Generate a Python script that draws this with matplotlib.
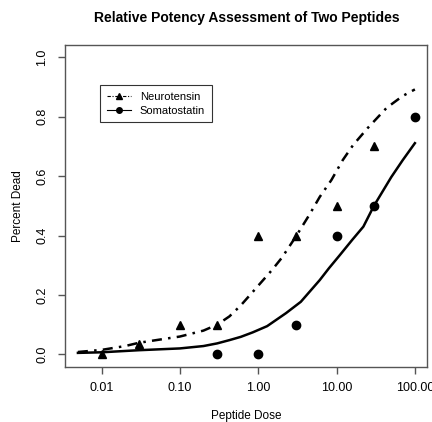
import numpy as np
import matplotlib.pyplot as plt

# observed data
neuro_dose = [0.01, 0.03, 0.1, 0.3, 1, 3, 10, 30]
neuro_dead = [0.0, 0.035, 0.1, 0.1, 0.4, 0.4, 0.5, 0.7]
somato_dose = [0.3, 1, 3, 10, 30, 100]
somato_dead = [0.0, 0.0, 0.1, 0.4, 0.5, 0.8]

# fitted curves
neuro_fit_dose = [0.005, 0.01, 0.02, 0.03, 0.05, 0.1, 0.2, 0.3, 0.43, 0.6, 0.85,
                  1.5, 2, 3, 4.5, 6.1, 8.6, 12, 16.3, 25, 43.6, 70, 100]
neuro_fit = [0.008, 0.015, 0.028, 0.039, 0.048, 0.06, 0.08, 0.10, 0.128, 0.165, 0.21,
             0.284, 0.325, 0.395, 0.47, 0.53, 0.587, 0.654, 0.705, 0.762, 0.83, 0.87, 0.892]
somato_fit_dose = [0.005, 0.01, 0.03, 0.1, 0.2, 0.3, 0.43, 0.6, 0.85, 1.3, 2.27,
                   3.5, 6.1, 8, 11, 15.8, 22, 30, 50, 70, 100]
somato_fit = [0.005, 0.007, 0.014, 0.02, 0.028, 0.037, 0.048, 0.059, 0.074, 0.095, 0.139,
              0.177, 0.25, 0.29, 0.334, 0.385, 0.43, 0.5, 0.597, 0.654, 0.711]

x_ticks = [0.01, 0.1, 1, 10, 100]
x_labels = ['0.01', '0.10', '1.00', '10.00', '100.00']
y_ticks = [0.0, 0.2, 0.4, 0.6, 0.8, 1.0]
y_labels = ['0.0', '0.2', '0.4', '0.6', '0.8', '1.0']

plt.rcParams['font.family'] = ['Liberation Sans', 'DejaVu Sans']

fig = plt.figure(figsize=(4.32, 4.22), dpi=100)
ax = fig.add_axes([0.150, 0.130, 0.838, 0.763])

ax.plot(neuro_fit_dose, neuro_fit, color='black', lw=1.8, dashes=(4, 2.5, 1, 2.5))
ax.plot(somato_fit_dose, somato_fit, color='black', lw=1.8)
ax.plot(neuro_dose, neuro_dead, '^', color='black', ms=6, ls='none')
ax.plot(somato_dose, somato_dead, 'o', color='black', ms=6, ls='none')

ax.set_xscale('log')
ax.set_xlim(0.0034, 142)
ax.set_ylim(-0.043, 1.041)
ax.set_xticks(x_ticks)
ax.set_xticklabels(x_labels)
ax.minorticks_off()
ax.set_yticks(y_ticks)
ax.set_yticklabels(y_labels, rotation=90, va='center')

for s in ax.spines.values():
    s.set_color('#555555')
    s.set_linewidth(1.0)
ax.tick_params(axis='both', length=5, width=1.0, color='#555555', labelsize=9)
ax.tick_params(axis='x', pad=6)
ax.tick_params(axis='y', pad=7)

ax.set_xlabel('Peptide Dose', fontsize=8.5, labelpad=11.5)
ax.set_ylabel('Percent Dead', fontsize=8.5, labelpad=9)
fig.text(0.571, 0.957, 'Relative Potency Assessment of Two Peptides', fontsize=10,
         fontweight='bold', ha='center', va='center')

h1, = ax.plot([], [], color='black', lw=0.8, dashes=(3, 1.5, 1, 1.5), marker='^', ms=4)
h2, = ax.plot([], [], color='black', lw=0.8, marker='o', ms=4)
leg = ax.legend([h1, h2], ['Neurotensin', 'Somatostatin'], loc='upper left',
                bbox_to_anchor=(0.097, 0.876), fontsize=8, frameon=True,
                fancybox=False, handlelength=2.2, handletextpad=0.8,
                borderpad=0.6, labelspacing=0.35, borderaxespad=0)
leg.get_frame().set_edgecolor('black')
leg.get_frame().set_linewidth(0.8)

fig.savefig('out.png', dpi=100)
